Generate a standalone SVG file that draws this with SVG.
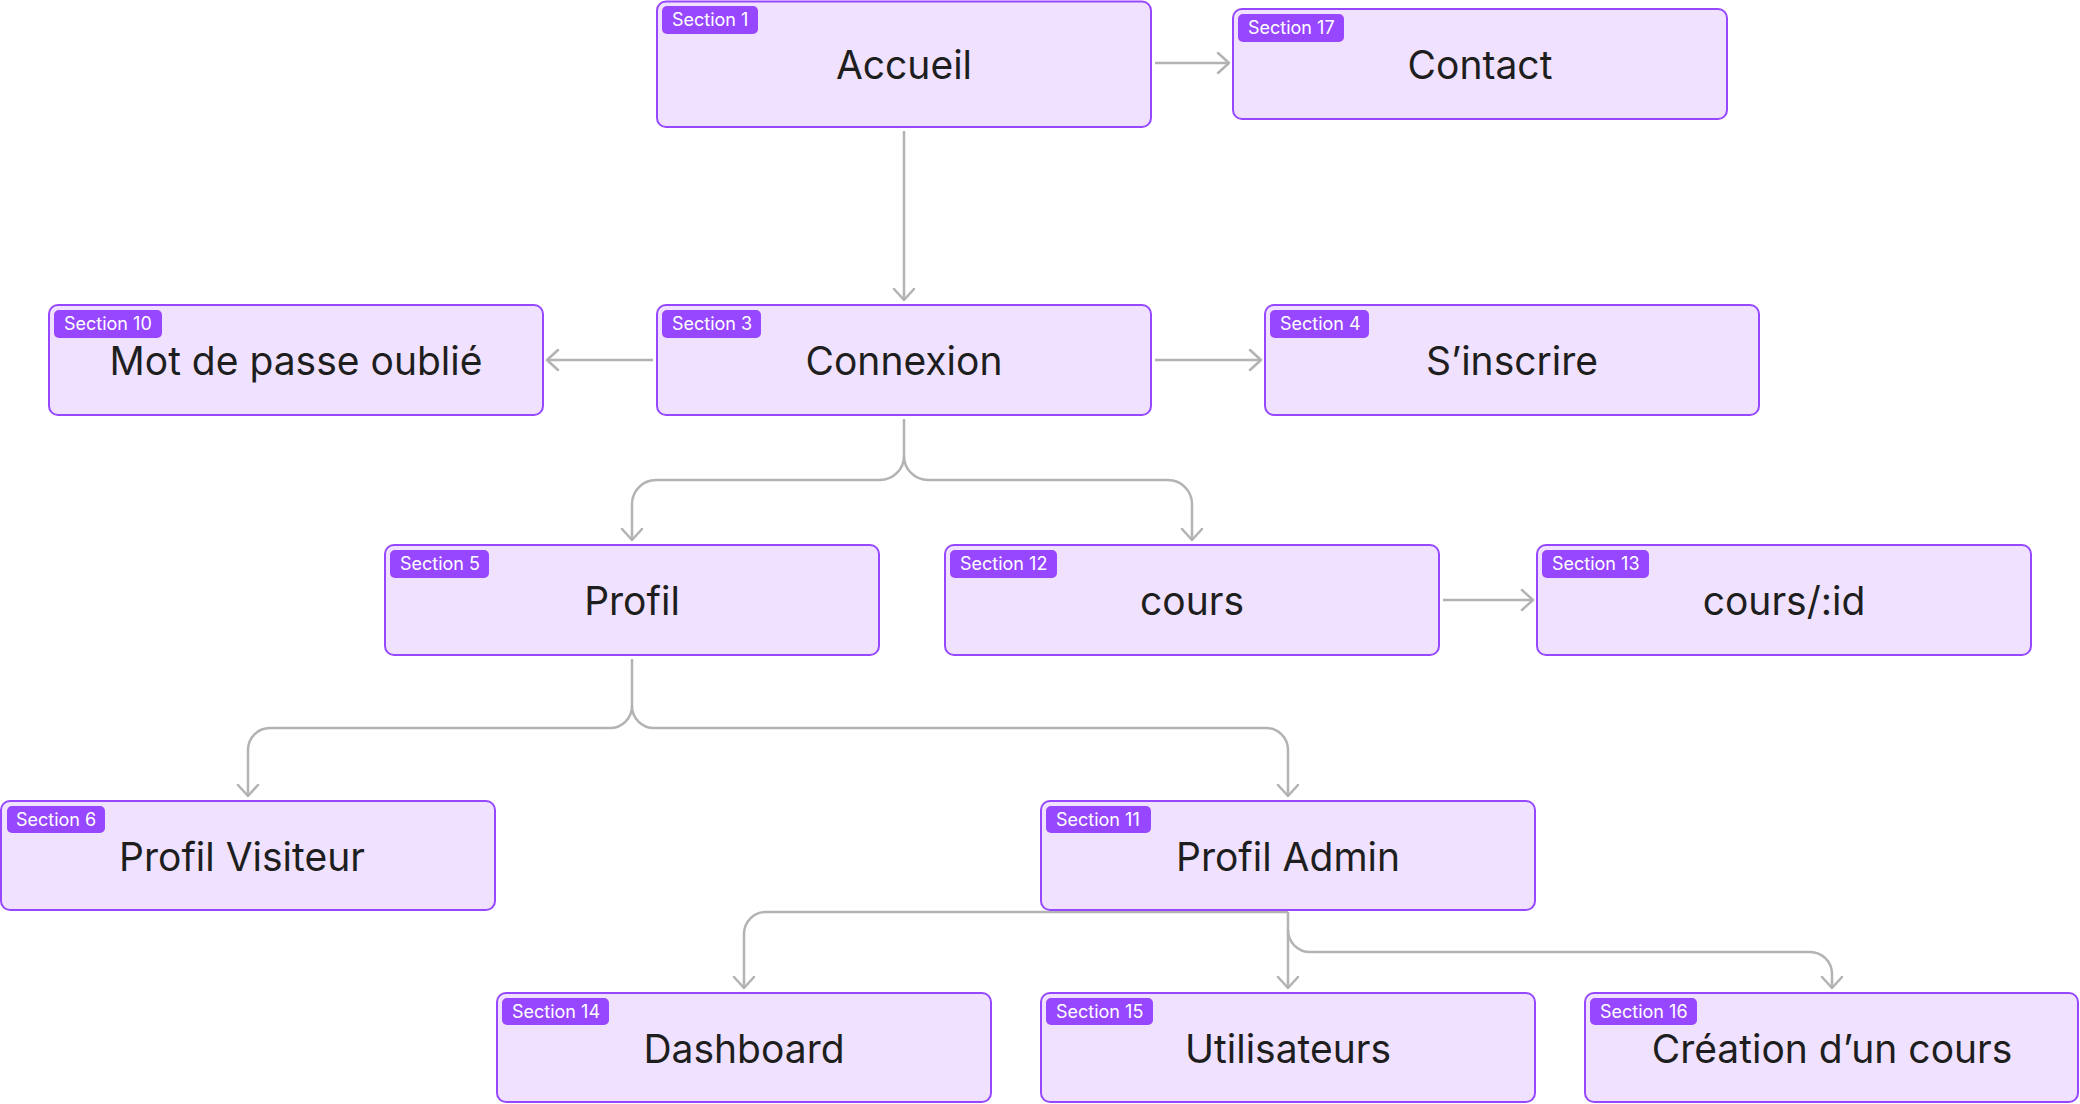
<svg xmlns="http://www.w3.org/2000/svg" width="2080" height="1104" viewBox="0 0 2080 1104">
<style>
.box{fill:#F0E2FE;stroke:#9747FF;stroke-width:2}
.badge{fill:#9747FF}
.bt{font-family:Inter,"Liberation Sans",sans-serif;font-size:18px;fill:#FFFFFF}
.lbl{font-family:Inter,"Liberation Sans",sans-serif;font-size:39px;fill:#1E1E1E;text-anchor:middle}
.con{fill:none;stroke:#B3B3B3;stroke-width:2.5;marker-end:url(#arr)}
</style>
<defs>
<marker id="arr" viewBox="-14 -12 16 24" refX="0" refY="0" markerWidth="16" markerHeight="24" markerUnits="userSpaceOnUse" orient="auto">
<path d="M-11,-10 L0,0 L-11,10" fill="none" stroke="#B3B3B3" stroke-width="2.5" stroke-linecap="round" stroke-linejoin="round"/>
</marker>
</defs>
<rect width="2080" height="1104" fill="#FFFFFF"/>
<g id="connectors">
<path class="con" d="M904,131 V300"/>
<path class="con" d="M1155,63 H1229"/>
<path class="con" d="M653,360 H547"/>
<path class="con" d="M1155,360 H1261"/>
<path class="con" d="M1443,600 H1533"/>
<path class="con" d="M904,419 V456 A24,24 0 0 1 880,480 H656 A24,24 0 0 0 632,504 V540"/>
<path class="con" d="M904,456 A24,24 0 0 0 928,480 H1168 A24,24 0 0 1 1192,504 V540"/>
<path class="con" d="M632,659 V706 A22,22 0 0 1 610,728 H270 A22,22 0 0 0 248,750 V796"/>
<path class="con" d="M632,706 A22,22 0 0 0 654,728 H1266 A22,22 0 0 1 1288,750 V796"/>
<path class="con" d="M1288,912 H766 A22,22 0 0 0 744,934 V988"/>
<path class="con" d="M1288,912 V988"/>
<path class="con" d="M1288,930 A22,22 0 0 0 1310,952 H1810 A22,22 0 0 1 1832,974 V988"/>
</g>
<g id="n1">
<rect class="box" x="657" y="1.5" width="494" height="125.5" rx="9"/>
<rect class="badge" x="662" y="6" width="96" height="28" rx="5"/>
<text class="bt" x="672" y="26">Section 1</text>
<text class="lbl" x="904" y="79">Accueil</text>
</g>
<g id="n17">
<rect class="box" x="1233" y="9" width="494" height="110" rx="9"/>
<rect class="badge" x="1238" y="14" width="106" height="28" rx="5"/>
<text class="bt" x="1248" y="34">Section 17</text>
<text class="lbl" x="1480" y="79">Contact</text>
</g>
<g id="n10">
<rect class="box" x="49" y="305" width="494" height="110" rx="9"/>
<rect class="badge" x="54" y="310" width="108" height="28" rx="5"/>
<text class="bt" x="64" y="330">Section 10</text>
<text class="lbl" x="296" y="375">Mot de passe oublié</text>
</g>
<g id="n3">
<rect class="box" x="657" y="305" width="494" height="110" rx="9"/>
<rect class="badge" x="662" y="310" width="99" height="28" rx="5"/>
<text class="bt" x="672" y="330">Section 3</text>
<text class="lbl" x="904" y="375">Connexion</text>
</g>
<g id="n4">
<rect class="box" x="1265" y="305" width="494" height="110" rx="9"/>
<rect class="badge" x="1270" y="310" width="99" height="28" rx="5"/>
<text class="bt" x="1280" y="330">Section 4</text>
<text class="lbl" x="1512" y="375">S’inscrire</text>
</g>
<g id="n5">
<rect class="box" x="385" y="545" width="494" height="110" rx="9"/>
<rect class="badge" x="390" y="550" width="99" height="28" rx="5"/>
<text class="bt" x="400" y="570">Section 5</text>
<text class="lbl" x="632" y="615">Profil</text>
</g>
<g id="n12">
<rect class="box" x="945" y="545" width="494" height="110" rx="9"/>
<rect class="badge" x="950" y="550" width="107" height="28" rx="5"/>
<text class="bt" x="960" y="570">Section 12</text>
<text class="lbl" x="1192" y="615">cours</text>
</g>
<g id="n13">
<rect class="box" x="1537" y="545" width="494" height="110" rx="9"/>
<rect class="badge" x="1542" y="550" width="107" height="28" rx="5"/>
<text class="bt" x="1552" y="570">Section 13</text>
<text class="lbl" x="1784" y="615">cours/:id</text>
</g>
<g id="n6">
<rect class="box" x="1" y="801" width="494" height="109" rx="9"/>
<rect class="badge" x="7" y="806" width="98" height="27" rx="5"/>
<text class="bt" x="16" y="826">Section 6</text>
<text class="lbl" x="242" y="871">Profil Visiteur</text>
</g>
<g id="n11">
<rect class="box" x="1041" y="801" width="494" height="109" rx="9"/>
<rect class="badge" x="1046" y="806" width="105" height="27" rx="5"/>
<text class="bt" x="1056" y="826">Section 11</text>
<text class="lbl" x="1288" y="871">Profil Admin</text>
</g>
<g id="n14">
<rect class="box" x="497" y="993" width="494" height="109" rx="9"/>
<rect class="badge" x="502" y="998" width="107" height="27" rx="5"/>
<text class="bt" x="512" y="1018">Section 14</text>
<text class="lbl" x="744" y="1063">Dashboard</text>
</g>
<g id="n15">
<rect class="box" x="1041" y="993" width="494" height="109" rx="9"/>
<rect class="badge" x="1046" y="998" width="107" height="27" rx="5"/>
<text class="bt" x="1056" y="1018">Section 15</text>
<text class="lbl" x="1288" y="1063">Utilisateurs</text>
</g>
<g id="n16">
<rect class="box" x="1585" y="993" width="493" height="109" rx="9"/>
<rect class="badge" x="1590" y="998" width="107" height="27" rx="5"/>
<text class="bt" x="1600" y="1018">Section 16</text>
<text class="lbl" x="1832" y="1063">Création d’un cours</text>
</g>
</svg>
